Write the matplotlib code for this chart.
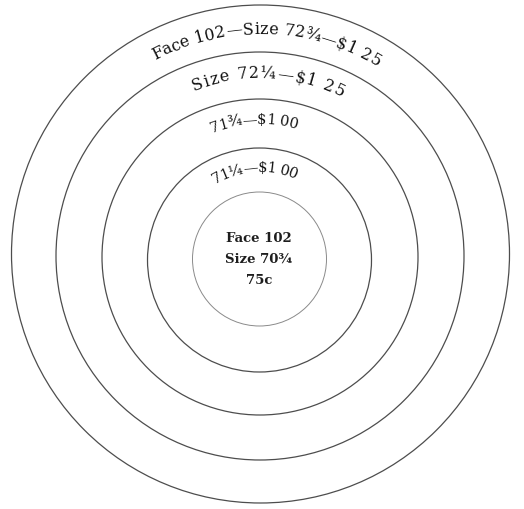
import matplotlib
matplotlib.use('Agg')
import matplotlib.pyplot as plt
from matplotlib.patches import Circle
from matplotlib.font_manager import FontProperties
import numpy as np

W, H = 524, 509

# rings (image pixel coords, y measured from top)
ring_cx = [259.5, 259.5, 260, 260, 260.5]
ring_cy = [259, 260, 257, 256, 254]
ring_r = [67, 112, 158, 204, 249]

# curved labels: text, baseline radius, centre shift (deg, + = right), arc span (deg)
arc_texts = ['71\u00bc\u2014$1 00', '71\u00be\u2014$1 00',
             'Size 72\u00bc\u2014$1 25', 'Face 102\u2014Size 72\u00be\u2014$1 25']
arc_radius = [88, 135, 179, 222]
arc_shift = [-3.4, -2.5, 2.7, 1.8]
arc_span = [55, 37, 49, 60]
arc_size = [10.5, 10.5, 11.5, 11.5]
arc_cy = [260, 259, 257, 256]

center_lines = ['Face 102', 'Size 70\u00be', '75c']
center_y = [242, 263, 284]

fig = plt.figure(figsize=(W / 100, H / 100), dpi=100)
ax = fig.add_axes([0, 0, 1, 1])
ax.set_xlim(0, W)
ax.set_ylim(H, 0)
ax.axis('off')

for i in range(len(ring_r)):
    col = '#8a8a8a' if i == 0 else '#4d4d4d'
    ax.add_patch(Circle((ring_cx[i], ring_cy[i]), ring_r[i], fill=False,
                        ec=col, lw=0.9 if i else 0.7))

renderer = fig.canvas.get_renderer()


def width(s, fp):
    if s == '':
        return 0.0
    w, h, d = renderer.get_text_width_height_descent(s, fp, ismath=False)
    return w  # pixels (dpi 100)


for t, r, sh, span, fs, cy in zip(arc_texts, arc_radius, arc_shift, arc_span,
                                  arc_size, arc_cy):
    fp = FontProperties(family='DejaVu Serif', size=fs)
    total = width(t, fp)
    target = np.radians(span) * r
    extra = (target - total) / (len(t) - 1)  # letter spacing
    mid = 90 - sh
    for i, ch in enumerate(t):
        if ch == ' ':
            continue
        s = (width(t[:i], fp) + width(t[:i + 1], fp)) / 2 + i * extra - target / 2
        a = np.radians(mid) - s / r
        x = 260 + r * np.cos(a)
        y = cy - r * np.sin(a)
        rot = np.degrees(a) - 90
        ax.text(x, y, ch, fontproperties=fp, color='#111111',
                ha='center', va='baseline', rotation=rot,
                rotation_mode='anchor')

for line, y in zip(center_lines, center_y):
    ax.text(259, y, line, family='DejaVu Serif', fontweight='bold', fontsize=9.5,
            color='#1e1e1e', ha='center', va='baseline')

fig.savefig('out.png', dpi=100, facecolor='white')
